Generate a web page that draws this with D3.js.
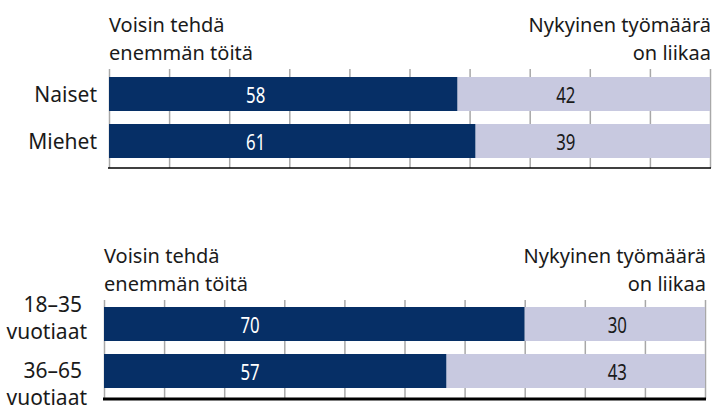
<!DOCTYPE html>
<html>
<head>
<meta charset="UTF-8">
<script src="https://cdnjs.cloudflare.com/ajax/libs/d3/7.8.5/d3.min.js"></script>
<style>
  body { margin: 0; background: #fff; }
  text { font-family: "Noto Sans", sans-serif; fill: #1a1a1a; }
  .val { font-size: 21px; }
  .grid line { stroke: #a8a8a8; stroke-width: 1.5; }
</style>
</head>
<body>
<script>
var genderCats = ["Naiset", "Miehet"];
var genderMore = [58, 61];
var genderTooMuch = [42, 39];

var ageCats = [["18–35", "vuotiaat"], ["36–65", "vuotiaat"]];
var ageMore = [70, 57];
var ageTooMuch = [30, 43];

var leftTitle = ["Voisin tehdä", "enemmän töitä"];
var rightTitle = ["Nykyinen työmäärä", "on liikaa"];
var ticks = d3.range(0, 101, 10);

var svg = d3.select("body").append("svg")
  .attr("width", 716).attr("height", 407);

function panel(o) {
  var x = d3.scaleLinear().domain([0, 100]).range([o.x0, o.x1]);
  var y = d3.scaleBand().domain(d3.range(o.cats.length))
    .range([o.barTop, o.barTop + 81]).paddingInner(13 / 47);
  var g = svg.append("g");

  // gridlines
  var grid = g.append("g").attr("class", "grid")
    .attr("transform", "translate(0," + o.axisY + ")")
    .call(d3.axisBottom(x).tickValues(ticks).tickSize(-(o.axisY - o.gridTop)).tickFormat(""));
  grid.select(".domain").remove();

  var rows = o.cats.map(function(c, i) { return { i: i, a: o.more[i], b: o.tooMuch[i] }; });

  g.selectAll(".barA").data(rows).enter().append("rect")
    .attr("x", x(0)).attr("y", function(d) { return y(d.i); })
    .attr("width", function(d) { return x(d.a) - x(0); })
    .attr("height", y.bandwidth()).attr("fill", "#062f66");
  g.selectAll(".barB").data(rows).enter().append("rect")
    .attr("x", function(d) { return x(d.a); }).attr("y", function(d) { return y(d.i); })
    .attr("width", function(d) { return x(d.a + d.b) - x(d.a); })
    .attr("height", y.bandwidth()).attr("fill", "#c8c9e0");

  // value labels, narrowed to look like a condensed face
  function valY(d) { return y(d.i) + y.bandwidth() / 2 + 8.5; }
  g.selectAll(".valA").data(rows).enter().append("text").attr("class", "val")
    .attr("transform", function(d) { return "translate(" + x(o.posA) + "," + valY(d) + ") scale(0.8,1)"; })
    .attr("text-anchor", "middle").style("fill", "#fff").text(function(d) { return d.a; });
  g.selectAll(".valB").data(rows).enter().append("text").attr("class", "val")
    .attr("transform", function(d) { return "translate(" + x(o.posB) + "," + valY(d) + ") scale(0.8,1)"; })
    .attr("text-anchor", "middle").style("fill", "#1a1a1a").text(function(d) { return d.b; });

  // baseline
  g.append("line").attr("x1", x(0) - 1).attr("x2", x(100) + 1)
    .attr("y1", o.axisY).attr("y2", o.axisY)
    .attr("stroke", "#000").attr("stroke-width", o.axisW);

  // category labels
  o.cats.forEach(function(c, i) {
    var lines = Array.isArray(c) ? c : [c];
    var cy = y(i) + y.bandwidth() / 2;
    if (lines.length === 1) {
      g.append("text").attr("x", o.labelX).attr("y", cy + 8)
        .attr("text-anchor", "end").style("font-size", "21px").text(lines[0]);
    } else {
      var off = o.labelOff[i];
      g.append("text").attr("x", o.labelX - 5).attr("y", cy + off)
        .attr("text-anchor", "end").style("font-size", "21px").text(lines[0]);
      g.append("text").attr("x", o.labelX).attr("y", cy + off + 27)
        .attr("text-anchor", "end").style("font-size", "21px").text(lines[1]);
    }
  });

  // titles
  leftTitle.forEach(function(t, i) {
    g.append("text").attr("x", x(0)).attr("y", o.titleY + i * 28)
      .style("font-size", "20px").text(t);
  });
  rightTitle.forEach(function(t, i) {
    g.append("text").attr("x", x(100) + 1).attr("y", o.titleY + i * 28)
      .attr("text-anchor", "end").style("font-size", "20px").text(t);
  });
}

panel({ cats: genderCats, more: genderMore, tooMuch: genderTooMuch,
  x0: 109, x1: 710, gridTop: 69, barTop: 77, axisY: 168, axisW: 1.5,
  posA: 24.4, posB: 76, labelX: 97, titleY: 32 });
panel({ cats: ageCats, more: ageMore, tooMuch: ageTooMuch,
  x0: 104, x1: 705, gridTop: 300, barTop: 307, axisY: 399, axisW: 3,
  posA: 24.3, posB: 85.4, labelX: 87, labelOff: [-12, 7], titleY: 263 });
</script>
</body>
</html>
